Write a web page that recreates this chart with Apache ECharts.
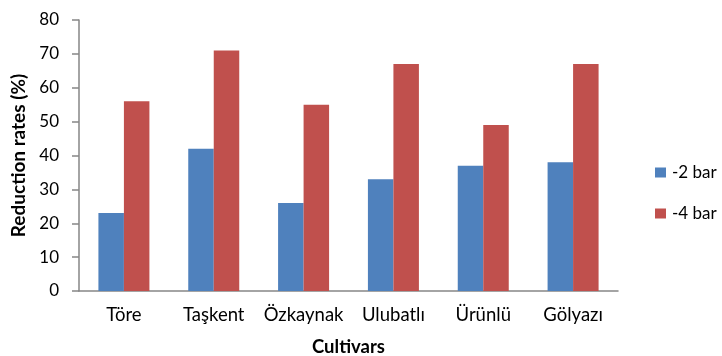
<!DOCTYPE html>
<html>
<head>
<meta charset="utf-8">
<script src="https://cdn.jsdelivr.net/npm/echarts@6/dist/echarts.min.js"></script>
<style>
  html, body { margin: 0; padding: 0; background: #fff; }
  #chart { width: 722px; height: 356px; }
</style>
</head>
<body>
<div id="chart"></div>
<script>
// Reduction rates per cultivar under two drought levels
const cultivars = ['Töre', 'Taşkent', 'Özkaynak', 'Ulubatlı', 'Ürünlü', 'Gölyazı'];
const bar2 = [23, 42, 26, 33, 37, 38];
const bar4 = [56, 71, 55, 67, 49, 67];
const seriesNames = ['-2 bar', '-4 bar'];

const FONT = 'Lato, "Open Sans", sans-serif';
const axisColor = '#868686';

const chart = echarts.init(document.getElementById('chart'), null, { renderer: 'canvas' });
chart.setOption({
  animation: false,
  grid: { left: 79, right: 104, top: 20, bottom: 65, containLabel: false, outerBoundsMode: 'none' },
  legend: {
    orient: 'vertical',
    left: 655,
    top: 164,
    itemWidth: 11,
    itemHeight: 10,
    itemGap: 24,
    icon: 'rect',
    padding: 0,
    textStyle: { fontFamily: FONT, fontSize: 17, color: '#000', padding: [0, 0, 0, 1] },
    data: seriesNames
  },
  xAxis: {
    type: 'category',
    data: cultivars,
    name: 'Cultivars',
    nameLocation: 'middle',
    nameGap: 47,
    nameTextStyle: { fontFamily: FONT, fontSize: 18.5, fontWeight: 'bold', color: '#000' },
    axisLine: { lineStyle: { color: axisColor, width: 1.5 } },
    axisTick: { show: false },
    axisLabel: { fontFamily: FONT, fontSize: 18.5, color: '#000', margin: 15, interval: 0 }
  },
  yAxis: {
    type: 'value',
    min: 0,
    max: 80,
    interval: 10,
    name: 'Reduction rates (%)',
    nameLocation: 'middle',
    nameGap: 48,
    nameTextStyle: { fontFamily: FONT, fontSize: 19, fontWeight: 'bold', color: '#000' },
    axisLine: { show: true, lineStyle: { color: axisColor, width: 1.5 } },
    axisTick: { show: true, inside: false, length: 7, lineStyle: { color: axisColor, width: 1.5 } },
    axisLabel: { fontFamily: FONT, fontSize: 17, color: '#000', margin: 20 },
    splitLine: { show: false }
  },
  series: [
    {
      name: seriesNames[0],
      type: 'bar',
      data: bar2,
      barWidth: 25.5,
      barGap: '0%',
      itemStyle: { color: '#4F81BD' }
    },
    {
      name: seriesNames[1],
      type: 'bar',
      data: bar4,
      barWidth: 25.5,
      barGap: '0%',
      itemStyle: { color: '#C0504D' }
    }
  ]
});
</script>
</body>
</html>
